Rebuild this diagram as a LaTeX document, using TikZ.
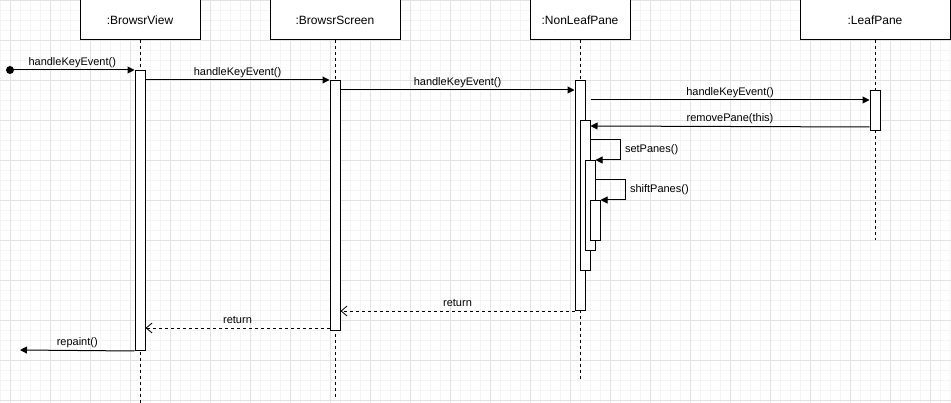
\documentclass[tikz,border=0pt]{standalone}
\usepackage{fontspec}
\setmainfont{Liberation Sans}
\usetikzlibrary{arrows.meta}
\definecolor{gridmaj}{HTML}{E2E2E2}
\definecolor{gridmin}{HTML}{F4F4F4}

\begin{document}
\begin{tikzpicture}[
        x=1pt, y=-1pt,
        head/.style={rectangle, draw=black, line width=1pt, fill=white, minimum height=40pt, inner sep=0pt, font=\fontsize{12}{14}\selectfont},
        act/.style={rectangle, draw=black, line width=1pt, fill=white, minimum width=10pt, inner sep=0pt, anchor=north},
        life/.style={line width=1pt, dash pattern=on 3pt off 3pt},
        msg/.style={-{Triangle[length=7pt, width=7pt]}, line width=1pt},
        ret/.style={-{Straight Barb[length=6pt, width=10pt]}, line width=0.8pt, dash pattern=on 3pt off 3pt},
        lbl/.style={font=\fontsize{11}{13}\selectfont, anchor=base, yshift=4.5pt, inner sep=0pt},
        selflbl/.style={font=\fontsize{11}{13}\selectfont, anchor=west, xshift=4pt, inner sep=0pt}
    ]
        % background grid
        \useasboundingbox (0,0) rectangle (951,403);
        \fill[white] (0,0) rectangle (951,403);
        \draw[gridmin, line width=0.8pt, step=10pt] (0pt,0pt) grid (951pt,-403pt);
        \draw[gridmaj, line width=0.8pt, step=40pt, xshift=10pt] (-10pt,0pt) grid (941pt,-403pt);

        % objects
        \node[head, minimum width=120pt] (view) at (140,20) {:BrowsrView};
        \node[head, minimum width=130pt] (scrn) at (335,20) {:BrowsrScreen};
        \node[head, minimum width=100pt] (nonleaf) at (580,20) {:NonLeafPane};
        \node[head, minimum width=150pt] (leaf) at (875,20) {:LeafPane};

        % lifelines
        \coordinate (viewend) at (140,403);
        \coordinate (scrnend) at (335,397);
        \coordinate (nonleafend) at (580,380);
        \coordinate (leafend) at (875,240);
        \draw[life] (view.south) -- (viewend);
        \draw[life] (scrn.south) -- (scrnend);
        \draw[life] (nonleaf.south) -- (nonleafend);
        \draw[life] (leaf.south) -- (leafend);

        % activations
        \node[act, minimum height=280pt] (viewact) at (140,70) {};
        \node[act, minimum height=250pt] (scrnact) at (335,80) {};
        \node[act, minimum height=230pt] (nl1) at (580,80) {};
        \node[act, minimum height=150pt] (nl2) at (585,120) {};
        \node[act, minimum height=90pt] (nl3) at (590,160) {};
        \node[act, minimum height=40pt] (nl4) at (595,200) {};
        \node[act, minimum height=40pt] (leafact) at (875,90) {};

        % messages
        \node[circle, fill=black, minimum size=8pt, inner sep=0pt] (start) at (10,70) {};
        \coordinate (repaintend) at (20,350);

        \draw[msg] (start.center) -- (viewact.north west) node[lbl, midway] {handleKeyEvent()};
        \draw[msg] ([yshift=-10pt]viewact.north east) -- (scrnact.north west) node[lbl, midway] {handleKeyEvent()};
        \draw[msg] ([yshift=-10pt]scrnact.north east) -- ([yshift=-10pt]nl1.north west) node[lbl, midway] {handleKeyEvent()};
        \draw[msg] ([shift={(5,20)}]nl1.north east) -- ([yshift=-10pt]leafact.north west) node[lbl, midway] {handleKeyEvent()};
        \draw[msg] ([yshift=4pt]leafact.south west) -- ([yshift=-6pt]nl2.north east) node[lbl, midway] {removePane(this)};
        \draw[msg] ([yshift=-20pt]nl2.north east) -- ++(30,0) -- ++(0,20) node[selflbl, midway] {setPanes()} -- (nl3.north east);
        \draw[msg] ([yshift=-20pt]nl3.north east) -- ++(30,0) -- ++(0,20) node[selflbl, midway] {shiftPanes()} -- (nl4.north east);
        \draw[ret] (nl1.south west) -- ([yshift=20pt]scrnact.south east) node[lbl, midway] {return};
        \draw[ret] ([yshift=3pt]scrnact.south west) -- ([yshift=23pt]viewact.south east) node[lbl, midway] {return};
        \draw[msg] (viewact.south west) -- (repaintend) node[lbl, midway] {repaint()};
    \end{tikzpicture}
\end{document}
